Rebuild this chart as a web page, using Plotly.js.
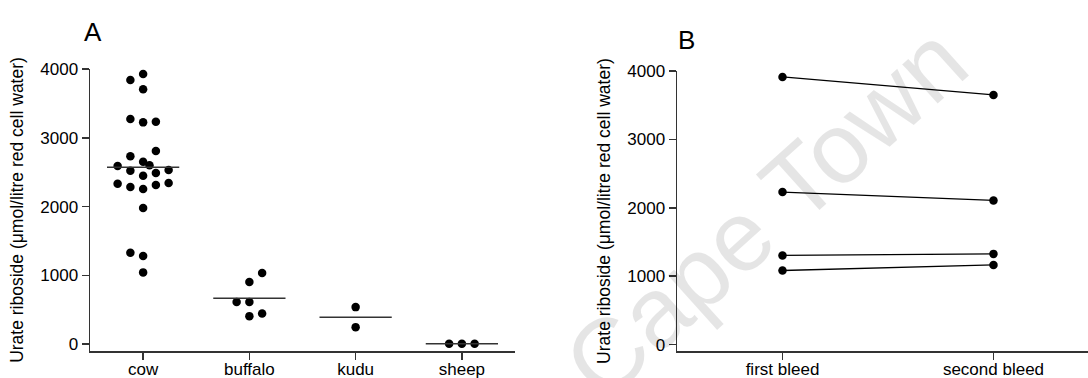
<!DOCTYPE html>
<html>
<head>
<meta charset="utf-8">
<script src="https://cdn.plot.ly/plotly-3.0.1.min.js"></script>
<style>html,body{margin:0;padding:0;background:#fff;}#chart{width:1088px;height:378px;}</style>
</head>
<body>
<div id="chart"></div>
<script>
// ---- Panel A data ----
const speciesLabels = ["cow", "buffalo", "kudu", "sheep"];
const cowValues = [3927, 3840, 3704, 3273, 3224, 3234, 2807, 2730, 2652, 2589, 2599, 2521, 2448, 2487, 2531, 2332, 2284, 2255, 2313, 2342, 1978, 1328, 1280, 1043];
const cowSwarmSlot = [0, -1, 0, -1, 0, 1, 1, -1, 0, -2, 0.5, -1, 0, 1, 2, -2, -1, 0, 1, 2, 0, -1, 0, 0];
const buffaloValues = [1033, 902, 611, 611, 407, 446];
const buffaloSwarmSlot = [1, 0, -1, 0, 0, 1];
const kuduValues = [538, 247];
const kuduSwarmSlot = [0, 0];
const sheepValues = [5, 5, 5];
const sheepSwarmSlot = [-1, 0, 1];

// ---- Panel B data ----
const bleedLabels = ["first bleed", "second bleed"];
const firstBleed = [3913, 2230, 1303, 1083];
const secondBleed = [3650, 2108, 1326, 1165];

const yTicks = [0, 1000, 2000, 3000, 4000];
const yTitle = "Urate riboside (\u03bcmol/litre red cell water)";

const FONT = "Arial, 'Liberation Sans', sans-serif";
const INK = "#000000";
const AXIS = "#333333";
const SLOT_W = 0.12;   // swarm column spacing in category units
const MEAN_HALF = 0.34; // half width of mean bar in category units

const groups = [
  {vals: cowValues, slots: cowSwarmSlot},
  {vals: buffaloValues, slots: buffaloSwarmSlot},
  {vals: kuduValues, slots: kuduSwarmSlot},
  {vals: sheepValues, slots: sheepSwarmSlot}
];

const traces = [];
groups.forEach((g, i) => {
  traces.push({
    type: "scatter", mode: "markers", xaxis: "x", yaxis: "y",
    x: g.slots.map(s => i + s * SLOT_W), y: g.vals,
    marker: {color: INK, size: 8.5}, hoverinfo: "y", showlegend: false,
    name: speciesLabels[i]
  });
  const mean = g.vals.reduce((a, b) => a + b, 0) / g.vals.length;
  traces.push({
    type: "scatter", mode: "lines", xaxis: "x", yaxis: "y",
    x: [i - MEAN_HALF, i + MEAN_HALF], y: [mean, mean],
    line: {color: AXIS, width: 1.5}, hoverinfo: "skip", showlegend: false
  });
});

firstBleed.forEach((v, i) => {
  traces.push({
    type: "scatter", mode: "lines+markers", xaxis: "x2", yaxis: "y2",
    x: [0, 1], y: [v, secondBleed[i]],
    line: {color: INK, width: 1.3}, marker: {color: INK, size: 8.5},
    showlegend: false
  });
});

const W = 1088, H = 378;
const commonX = {
  showline: true, linecolor: AXIS, linewidth: 1.5, mirror: false,
  ticks: "outside", ticklen: 7, tickwidth: 1.5, tickcolor: AXIS,
  showgrid: false, zeroline: false, tickfont: {family: FONT, size: 17, color: INK},
  ticklabelstandoff: -5,
  fixedrange: true, automargin: false
};
const commonY = {
  showline: true, linecolor: AXIS, linewidth: 1.5,
  ticks: "outside", ticklen: 7, tickwidth: 1.5, tickcolor: AXIS,
  showgrid: false, zeroline: false, tickfont: {family: FONT, size: 17, color: INK},
  tickvals: yTicks, ticktext: yTicks.map(String),
  fixedrange: true, automargin: false
};

const layout = {
  width: W, height: H,
  margin: {l: 0, r: 0, t: 0, b: 0, pad: 0},
  paper_bgcolor: "#ffffff", plot_bgcolor: "rgba(0,0,0,0)",
  showlegend: false,
  font: {family: FONT, color: INK},
  xaxis: Object.assign({}, commonX, {
    domain: [90 / W, 515 / W], range: [-0.5, 3.5],
    tickvals: [0, 1, 2, 3], ticktext: speciesLabels, anchor: "y"
  }),
  yaxis: Object.assign({}, commonY, {
    domain: [1 - 351 / H, 1 - 69 / H], range: [-100, 4000], anchor: "x",
    title: {text: yTitle, font: {family: FONT, size: 17.5, color: INK}, standoff: 12}
  }),
  xaxis2: Object.assign({}, commonX, {
    domain: [677 / W, 1], range: [-0.5, 1.448],
    tickvals: [0, 1], ticktext: bleedLabels, anchor: "y2"
  }),
  yaxis2: Object.assign({}, commonY, {
    domain: [1 - 351 / H, 1 - 71 / H], range: [-94, 4000], anchor: "x2",
    title: {text: yTitle, font: {family: FONT, size: 17.5, color: INK}, standoff: 12}
  }),
  annotations: [
    {text: "Cape Town", xref: "paper", yref: "paper", x: 765 / W, y: 1 - 212 / H,
     xanchor: "center", yanchor: "middle", showarrow: false, textangle: -42,
     font: {family: FONT, size: 100, color: "rgba(0,0,0,0.1)"}},
    {text: "A", xref: "paper", yref: "paper", x: 82 / W, y: 1 - 15 / H,
     xanchor: "left", yanchor: "top", showarrow: false,
     font: {family: FONT, size: 26, color: INK}},
    {text: "B", xref: "paper", yref: "paper", x: 676 / W, y: 1 - 23 / H,
     xanchor: "left", yanchor: "top", showarrow: false,
     font: {family: FONT, size: 26, color: INK}}
  ]
};

Plotly.newPlot("chart", traces, layout, {displayModeBar: false, staticPlot: true});
</script>
</body>
</html>
